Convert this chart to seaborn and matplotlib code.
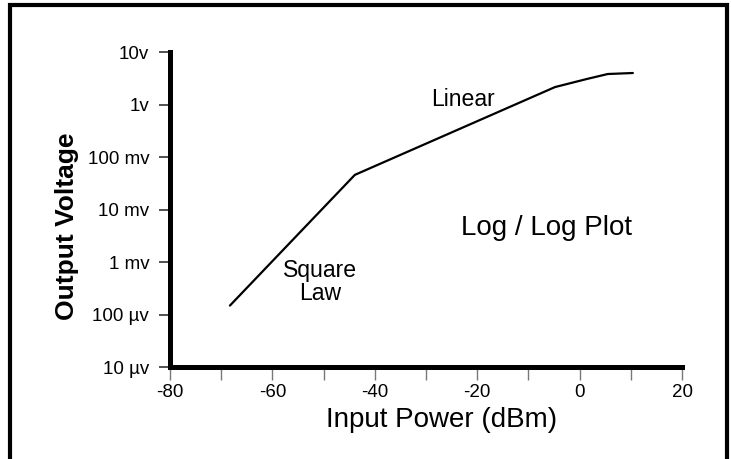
import numpy as np
import pandas as pd
import matplotlib
matplotlib.use("Agg")
from matplotlib import pyplot as plt
from matplotlib.patches import Rectangle
from matplotlib.ticker import FixedLocator, NullLocator
import seaborn as sns

# detector response
input_dbm = [-68.3, -43.9, -4.8, 1.4, 5.5, 10.4]
output_volts = [1.48e-4, 0.0457, 2.15, 3.06, 3.81, 3.98]

y_ticks = [1e-5, 1e-4, 1e-3, 1e-2, 1e-1, 1, 10]
y_tick_labels = ["10 µv", "100 µv", "1 mv", "10 mv", "100 mv", "1v", "10v"]
x_ticks = [-80, -70, -60, -50, -40, -30, -20, -10, 0, 10, 20]
x_tick_labels = ["-80", "", "-60", "", "-40", "", "-20", "", "0", "", "20"]

df = pd.DataFrame({"dbm": input_dbm, "volts": output_volts})

sns.set_style("ticks")
plt.rcParams["font.family"] = ["Liberation Sans", "DejaVu Sans"]
plt.rcParams["text.color"] = "black"
plt.rcParams["axes.labelcolor"] = "black"

fig = plt.figure(figsize=(7.31, 4.59), dpi=100)
ax = fig.add_axes([0.2326, 0.2004, 0.933 - 0.2326, 0.8867 - 0.2004])

sns.lineplot(data=df, x="dbm", y="volts", color="black", linewidth=1.6, ax=ax)
ax.set_yscale("log")
ax.set_xlim(-80, 20)
ax.set_ylim(1e-5, 10)

ax.yaxis.set_major_locator(FixedLocator(y_ticks))
ax.yaxis.set_minor_locator(NullLocator())
ax.set_yticklabels(y_tick_labels)
ax.set_xticks(x_ticks)
ax.set_xticklabels(x_tick_labels)

sns.despine(ax=ax)
for side in ("left", "bottom"):
    ax.spines[side].set_linewidth(3.6)
    ax.spines[side].set_color("black")
    ax.spines[side].set_capstyle("projecting")

ax.tick_params(axis="y", length=8, width=1.2, color="#333333", pad=7,
               labelsize=13.5, labelcolor="black")
ax.tick_params(axis="x", length=9, width=1.0, color="#777777", pad=3,
               labelsize=13.5, labelcolor="black")

ax.set_xlabel("Input Power (dBm)", fontsize=20)
ax.set_ylabel("Output Voltage", fontsize=19, fontweight="bold")
ax.xaxis.set_label_coords(0.531, -0.128)
ax.yaxis.set_label_coords(-0.178, 0.448)

ax.text(-22.8, 1.27, "Linear", fontsize=16.6, ha="center", va="center")
ax.text(-50.7, 4.2e-4, "Square\nLaw", fontsize=16.6, ha="center", va="center",
        linespacing=1.0)
ax.text(-6.4, 4.5e-3, "Log / Log Plot", fontsize=20, ha="center", va="center")

# frame round the figure, bottom edge falls outside the picture
fig.add_artist(Rectangle((10 / 731, -0.05), (727 - 10) / 731, 1.05 - 5 / 459,
                         transform=fig.transFigure, fill=False,
                         edgecolor="black", linewidth=3.0))

fig.savefig("out.png", dpi=100, facecolor="white")
